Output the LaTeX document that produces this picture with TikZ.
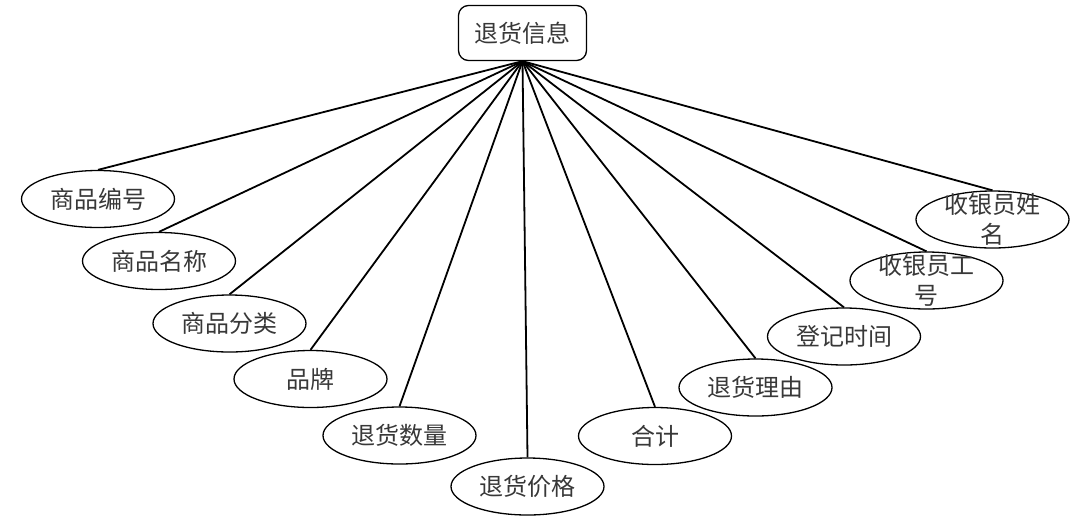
\documentclass[tikz,border=0pt]{standalone}
\usepackage{fontspec}
\setmainfont{Noto Sans CJK SC}
\usetikzlibrary{shapes.geometric}
\begin{document}
\begin{tikzpicture}[x=1pt,y=-1pt,
  attr/.style={ellipse, draw=black, line width=1.3pt, minimum width=153pt, minimum height=57pt, inner sep=0pt, fill=white},
  lbl/.style={inner sep=0pt, align=center, font=\fontsize{24}{30}\selectfont, text=black!78},
  entity/.style={rectangle, rounded corners=10pt, draw=black, line width=1.3pt, minimum width=128pt, minimum height=55pt, inner sep=0pt, font=\fontsize{24}{30}\selectfont, text=black!78},
  conn/.style={draw=black, line width=1.8pt}]
\useasboundingbox (0,0) rectangle (1091,531);
\node[entity] (top) at (522.5,33) {退货信息};
\node[attr] (n1) at (98,199) {};
\node[attr] (n2) at (159,261) {};
\node[attr] (n3) at (229.5,323.5) {};
\node[attr] (n4) at (310.5,379) {};
\node[attr] (n5) at (399.5,435.5) {};
\node[attr] (n6) at (527.5,486.5) {};
\node[attr] (n7) at (655,436) {};
\node[attr] (n8) at (755.5,387.5) {};
\node[attr] (n9) at (844,336.5) {};
\node[attr] (n10) at (926.5,280.5) {};
\node[attr] (n11) at (992.5,219.5) {};
\foreach \i in {1,...,11} {\draw[conn] (top.south) -- (n\i.north);}
\node[lbl] at (n1) {商品编号};
\node[lbl] at (n2) {商品名称};
\node[lbl] at (n3) {商品分类};
\node[lbl] at (n4) {品牌};
\node[lbl] at (n5) {退货数量};
\node[lbl] at (n6) {退货价格};
\node[lbl] at (n7) {合计};
\node[lbl] at (n8) {退货理由};
\node[lbl] at (n9) {登记时间};
\node[lbl] at (n10) {收银员工\\号};
\node[lbl] at (n11) {收银员姓\\名};
\end{tikzpicture}
\end{document}
